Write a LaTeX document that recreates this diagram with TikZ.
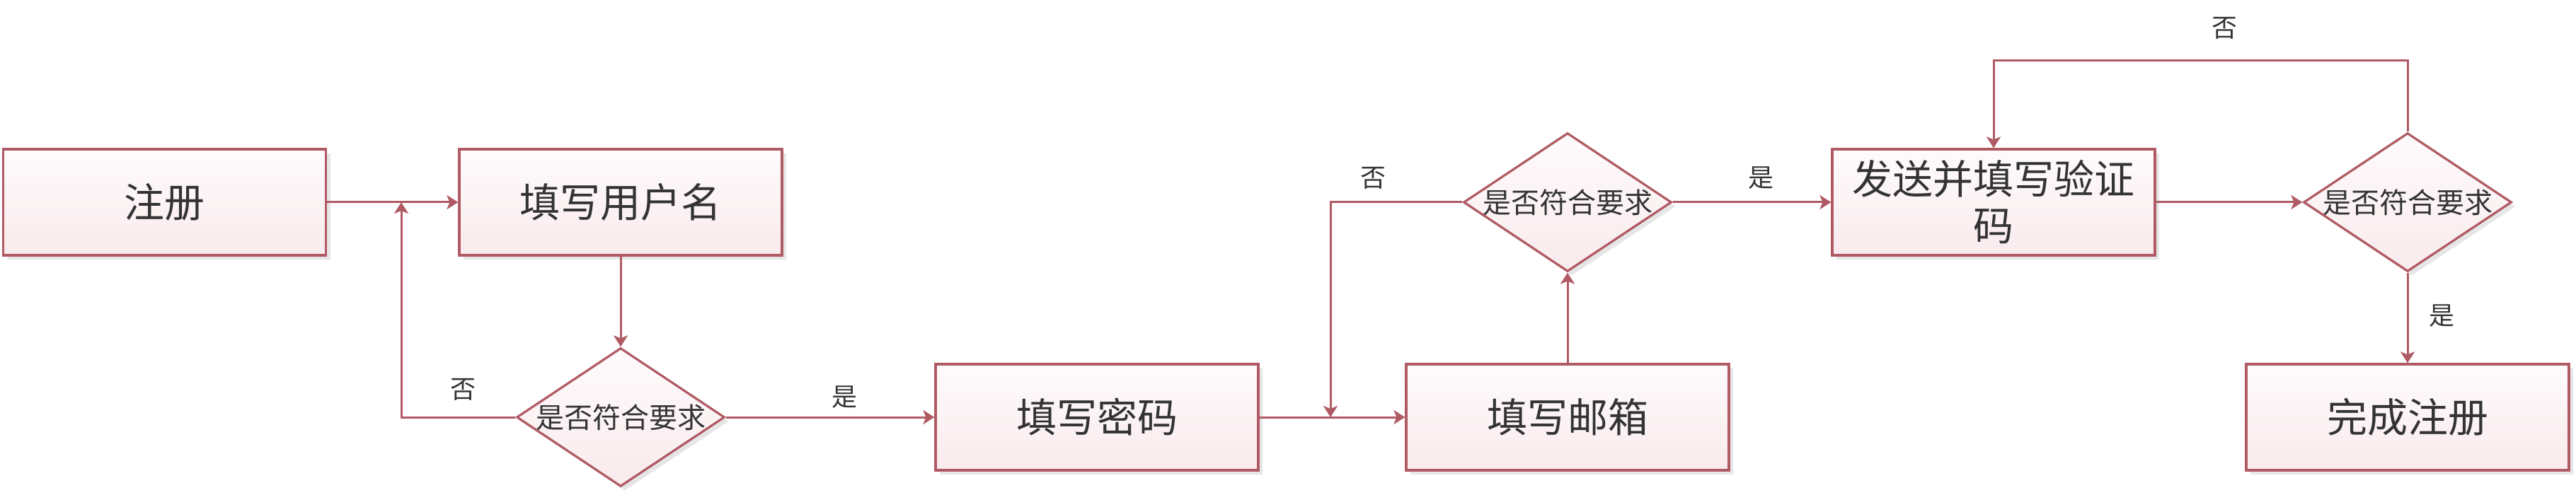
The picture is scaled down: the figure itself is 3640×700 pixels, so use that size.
\documentclass[tikz,border=0pt]{standalone}
\usepackage{fontspec}
\newfontfamily\cjk{Noto Sans CJK SC}
\usetikzlibrary{shapes.geometric,arrows.meta,shadows}
\definecolor{edge}{HTML}{B05A64}
\definecolor{filltop}{HTML}{FEFBFC}
\definecolor{fillbot}{HTML}{F9EAED}
\definecolor{txt}{HTML}{333333}
\definecolor{shade}{HTML}{E6E6E6}
\tikzset{
  boxnode/.style={rectangle, draw=edge, line width=3.2pt, top color=filltop, bottom color=fillbot,
    minimum width=456pt, minimum height=150pt, inner sep=0pt, text=txt,
    font=\cjk\fontsize{57}{66}\selectfont, align=center,
    drop shadow={shadow xshift=6pt, shadow yshift=-6pt, fill=shade, opacity=1}},
  decnode/.style={diamond, draw=edge, line width=3.2pt, top color=filltop, bottom color=fillbot,
    minimum width=294pt, minimum height=196pt, inner sep=0pt,
    drop shadow={shadow xshift=6pt, shadow yshift=-6pt, fill=shade, opacity=1}},
  dectext/.style={text=txt, font=\cjk\fontsize{40}{44}\selectfont, inner sep=0pt},
  conn/.style={draw=edge, line width=3pt, -{Stealth[length=16pt, width=20pt, inset=4pt]}},
  lab/.style={text=txt, font=\cjk\fontsize{36}{40}\selectfont, inner sep=0pt}
}
\begin{document}
\begin{tikzpicture}[x=1pt, y=-1pt]
\useasboundingbox (0,0) rectangle (3640,700);
% nodes
\node[boxnode] (b1) at (232.5,286) {注册};
\node[boxnode] (b2) at (877,286) {填写用户名};
\node[decnode, label={[dectext]center:是否符合要求}] (d1) at (877,590) {};
\node[boxnode] (b3) at (1550,590) {填写密码};
\node[boxnode] (b4) at (2215,590) {填写邮箱};
\node[decnode, label={[dectext]center:是否符合要求}] (d2) at (2215,286) {};
\node[boxnode] (b5) at (2817,286) {发送并填写验证\\码};
\node[decnode, label={[dectext]center:是否符合要求}] (d3) at (3402,286) {};
\node[boxnode] (b6) at (3402,590) {完成注册};
% junctions
\coordinate (j1) at (567,286);
\coordinate (j2) at (1880,590);
\coordinate (loop) at (2817,86);
% connectors
\draw[conn] (b1) -- (b2);
\draw[conn] (b2) -- (d1);
\draw[conn] (d1.west) -| (j1);
\draw[conn] (d1.east) -- (b3.west);
\draw[conn] (b3) -- (b4);
\draw[conn] (d2.west) -| (j2);
\draw[conn] (b4) -- (d2.south);
\draw[conn] (d2.east) -- (b5.west);
\draw[conn] (b5.east) -- (d3.west);
\draw[conn] (d3.north) |- (loop) -- (b5.north);
\draw[conn] (d3.south) -- (b6.north);
% labels
\node[lab] (l1) at (654,551) {否};
\node[lab] (l2) at (1193,562) {是};
\node[lab] (l3) at (1940,252) {否};
\node[lab] (l4) at (2488,252) {是};
\node[lab] (l5) at (3143,40) {否};
\node[lab] (l6) at (3450,447) {是};
\end{tikzpicture}
\end{document}
